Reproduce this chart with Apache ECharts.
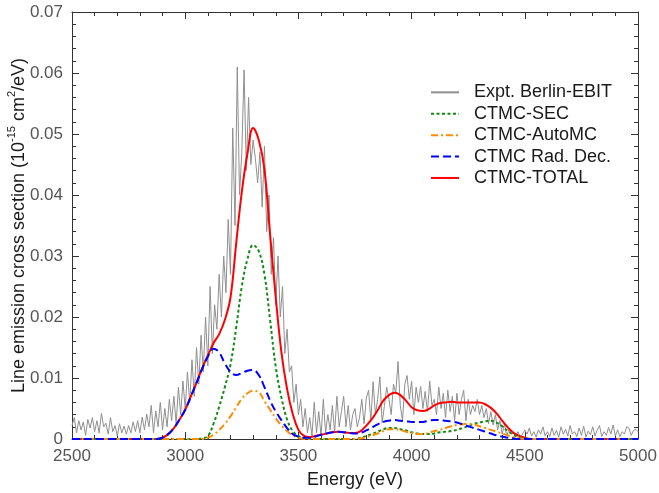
<!DOCTYPE html>
<html><head><meta charset="utf-8">
<script src="https://cdn.jsdelivr.net/npm/echarts@6/dist/echarts.min.js"></script>
<style>html,body{margin:0;padding:0;background:#fff}#c{width:659px;height:493px}</style>
</head><body><div id="c"></div>
<script>
// ---------- data ----------
const legendNames = ['Expt. Berlin-EBIT', 'CTMC-SEC', 'CTMC-AutoMC', 'CTMC Rad. Dec.', 'CTMC-TOTAL'];
const xTicks = [2500, 3000, 3500, 4000, 4500, 5000];
const yTicks = [0, 0.01, 0.02, 0.03, 0.04, 0.05, 0.06, 0.07];

// Experimental spectrum, 10 eV bins from 2500 eV
const expStart = 2500, expStep = 10;
const expValues = [
  0.0022, 0.0035, 0.001, 0.003, 0.0015, 0.0028, 0.0006, 0.0032, 0.0018, 0.0035, // 2500
  0.0012, 0.003, 0.001, 0.0042, 0.002, 0.0026, 0.0008, 0.0035, 0.0012, 0.0022,  // 2600
  0.0005, 0.0025, 0.001, 0.0021, 0.0008, 0.0022, 0.001, 0.0028, 0.0012, 0.003,  // 2700
  0.001, 0.0036, 0.0015, 0.0041, 0.002, 0.0055, 0.001, 0.0046, 0.002, 0.006,    // 2800
  0.0015, 0.005, 0.002, 0.0065, 0.003, 0.007, 0.0025, 0.0085, 0.004, 0.0095,    // 2900
  0.005, 0.011, 0.006, 0.013, 0.007, 0.015, 0.009, 0.017, 0.011, 0.02,          // 3000
  0.012, 0.025, 0.014, 0.022, 0.018, 0.027, 0.02, 0.03, 0.024, 0.036,           // 3100
  0.027, 0.051, 0.035, 0.061, 0.040, 0.047, 0.0605, 0.044, 0.056, 0.045,        // 3200
  0.049, 0.046, 0.042, 0.047, 0.038, 0.048, 0.034, 0.04, 0.027, 0.033,          // 3300
  0.022, 0.03, 0.02, 0.025, 0.014, 0.018, 0.011, 0.012, 0.006, 0.009,           // 3400
  0.004, 0.0065, 0.002, 0.005, 0.001, 0.0035, 0.0005, 0.006, 0.001, 0.0045,     // 3500
  0.0005, 0.0065, 0.001, 0.004, 0.0015, 0.0055, 0.001, 0.007, 0.002, 0.0045,    // 3600
  0.007, 0.002, 0.0055, 0.0015, 0.004, 0.005, 0.002, 0.0035, 0.0065, 0.0025,    // 3700
  0.0067, 0.008, 0.003, 0.0094, 0.004, 0.0065, 0.0102, 0.0026, 0.0055, 0.0085,  // 3800
  0.0065, 0.004, 0.009, 0.0075, 0.0127, 0.0055, 0.003, 0.009, 0.0104, 0.0065,   // 3900
  0.0095, 0.004, 0.0085, 0.006, 0.0086, 0.005, 0.0078, 0.0045, 0.0095, 0.0055,  // 4000
  0.0065, 0.004, 0.0085, 0.005, 0.0075, 0.0035, 0.008, 0.0045, 0.007, 0.003,    // 4100
  0.0075, 0.004, 0.0065, 0.008, 0.003, 0.0065, 0.004, 0.0055, 0.0045, 0.0065,   // 4200
  0.004, 0.0055, 0.0035, 0.005, 0.0025, 0.0045, 0.0023, 0.004, 0.0015, 0.003,   // 4300
  0.0008, 0.0025, 0.0005, 0.0015, 0.0008, 0.001, 0.0005, 0.0012, 0.0003, 0.0008,// 4400
  0.0015, 0.0008, 0.0018, 0.0005, 0.0012, 0.0003, 0.0015, 0.0008, 0.002, 0.0005,// 4500
  0.0012, 0.0004, 0.0018, 0.0006, 0.0014, 0.0003, 0.002, 0.0008, 0.0016, 0.0005,// 4600
  0.0022, 0.0008, 0.0012, 0.0004, 0.0018, 0.0006, 0.0021, 0.0003, 0.0013, 0.0007,// 4700
  0.002, 0.0005, 0.0015, 0.0022, 0.0004, 0.0012, 0.0006, 0.0019, 0.0008, 0.0023,// 4800
  0.0005, 0.0015, 0.0004, 0.0012, 0.0008, 0.002, 0.0018, 0.0006, 0.0014, 0.0016,// 4900
  0.0012                                                                        // 5000
];

// Theory curves energies
const thEnergy = [
  2500,
  2850, 2875, 2900, 2925, 2950, 2975, 3000, 3025, 3050, 3075,
  3100, 3125, 3150, 3175, 3200, 3225, 3250, 3275, 3300, 3325,
  3350, 3375, 3400, 3425, 3450, 3475, 3500, 3525, 3550, 3575,
  3600, 3625, 3650, 3675, 3700, 3725, 3750, 3775, 3800, 3825,
  3850, 3875, 3900, 3925, 3950, 3975, 4000, 4025, 4050, 4075,
  4100, 4125, 4150, 4175, 4200, 4225, 4250, 4275, 4300, 4325,
  4350, 4375, 4400, 4425, 4450, 4475, 4500, 4525, 4550, 4575,
  5000
];
const totalValues = [
  0,
  0, 0, 0.0002, 0.0008, 0.0018, 0.0032, 0.0048, 0.007, 0.0092, 0.0116,
  0.0137, 0.0157, 0.0172, 0.0195, 0.0232, 0.032, 0.0405, 0.0468, 0.051, 0.049,
  0.0442, 0.0335, 0.0232, 0.0142, 0.0082, 0.0041, 0.0015, 0.0005, 0.0003, 0.0005,
  0.0007, 0.0009, 0.0011, 0.0012, 0.0011, 0.001, 0.001, 0.0013, 0.0022, 0.0033,
  0.0047, 0.0063, 0.0072, 0.0076, 0.0072, 0.0063, 0.0052, 0.0047, 0.0046, 0.0049,
  0.0055, 0.0059, 0.006, 0.0061, 0.006, 0.006, 0.006, 0.006, 0.006, 0.0057,
  0.0051, 0.0042, 0.003, 0.0019, 0.001, 0.0005, 0.0002, 0, 0, 0,
  0
];
const radDecValues = [
  0,
  0, 0, 0.0002, 0.0008, 0.0018, 0.0032, 0.0048, 0.007, 0.0092, 0.0115,
  0.0135, 0.0148, 0.0142, 0.0124, 0.011, 0.0105, 0.0108, 0.0112, 0.0113, 0.0105,
  0.0085, 0.0063, 0.0045, 0.0031, 0.0018, 0.0008, 0.0004, 0.0002, 0.0002, 0.0004,
  0.0007, 0.0009, 0.0011, 0.0012, 0.0011, 0.001, 0.0009, 0.001, 0.0014, 0.0019,
  0.0024, 0.0028, 0.003, 0.0031, 0.003, 0.0029, 0.0028, 0.0028, 0.0028, 0.003,
  0.0031, 0.0031, 0.003, 0.0029, 0.0027, 0.0024, 0.0021, 0.0018, 0.0015, 0.0012,
  0.0009, 0.0006, 0.0004, 0.0002, 0.0001, 0, 0, 0, 0, 0,
  0
];
const secValues = [
  0,
  0, 0, 0, 0, 0, 0, 0, 0, 0, 0.0001,
  0.0005, 0.0025, 0.0053, 0.0085, 0.0122, 0.0182, 0.025, 0.0295, 0.0318, 0.0308,
  0.027, 0.0195, 0.0118, 0.0068, 0.0032, 0.0013, 0.0005, 0.0001, 0, 0,
  0, 0, 0, 0, 0, 0, 0, 0.0002, 0.0005, 0.0008,
  0.0012, 0.0016, 0.0018, 0.0018, 0.0016, 0.0014, 0.0011, 0.0009, 0.0008, 0.0008,
  0.0009, 0.0011, 0.0012, 0.0013, 0.0015, 0.0018, 0.0021, 0.0025, 0.0027, 0.0029,
  0.003, 0.0027, 0.0021, 0.0013, 0.0007, 0.0003, 0.0001, 0, 0, 0,
  0
];
const autoMCValues = [
  0,
  0, 0, 0, 0, 0, 0, 0, 0, 0, 0,
  0.0002, 0.0007, 0.0015, 0.0025, 0.0037, 0.0052, 0.0066, 0.0075, 0.0079, 0.0077,
  0.0062, 0.0048, 0.0034, 0.0022, 0.0013, 0.0006, 0.0002, 0, 0, 0,
  0, 0, 0, 0, 0, 0, 0, 0.0001, 0.0003, 0.0006,
  0.0009, 0.0013, 0.0016, 0.0016, 0.0015, 0.0012, 0.001, 0.0008, 0.0008, 0.001,
  0.0013, 0.0015, 0.0018, 0.0021, 0.0023, 0.0024, 0.0025, 0.0024, 0.0021, 0.0018,
  0.0015, 0.0012, 0.0009, 0.0006, 0.0003, 0.0001, 0, 0, 0, 0,
  0
];

// ---------- chart ----------
const FONT = '"Liberation Sans", Arial, sans-serif';
const AXIS_COLOR = '#333333';
const expData = expValues.map((v, i) => [expStart + i * expStep, v]);
const pair = vals => thEnergy.map((e, i) => [e, vals[i]]);

function makeX(pos, labels) {
  return {
    type: 'value', position: pos, min: xTicks[0], max: xTicks[xTicks.length - 1],
    interval: xTicks[1] - xTicks[0],
    axisLine: { show: true, onZero: false, lineStyle: { color: AXIS_COLOR, width: 1 } },
    axisTick: { show: true, inside: true, length: 7, lineStyle: { color: AXIS_COLOR } },
    minorTick: { show: true, splitNumber: 5, length: 4, lineStyle: { color: AXIS_COLOR } },
    splitLine: { show: false },
    axisLabel: { show: labels, fontSize: 17, color: '#555555', margin: 9, fontFamily: FONT,
      formatter: v => String(Math.round(v)) }
  };
}
function makeY(pos, labels) {
  return {
    type: 'value', position: pos, min: yTicks[0], max: yTicks[yTicks.length - 1],
    interval: 0.01,
    axisLine: { show: true, onZero: false, lineStyle: { color: AXIS_COLOR, width: 1 } },
    axisTick: { show: true, inside: true, length: 7, lineStyle: { color: AXIS_COLOR } },
    minorTick: { show: true, splitNumber: 5, length: 4, lineStyle: { color: AXIS_COLOR } },
    splitLine: { show: false },
    axisLabel: { show: labels, fontSize: 17, color: '#555555', margin: 9, fontFamily: FONT,
      formatter: v => (Math.abs(v) < 1e-9 ? '0' : (+v.toFixed(2)).toString()) }
  };
}

const xBottom = makeX('bottom', true);
xBottom.name = 'Energy (eV)';
xBottom.nameLocation = 'middle';
xBottom.nameGap = 32;
xBottom.nameMoveOverlap = false;
xBottom.nameTextStyle = { fontSize: 18, color: '#1a1a1a', fontFamily: FONT };

const yLeft = makeY('left', true);
yLeft.name = '{a|Line emission cross section (10}{s|-15}{a| cm}{s|2}{a|/eV)}';
yLeft.nameLocation = 'middle';
yLeft.nameGap = 44;
yLeft.nameMoveOverlap = false;
yLeft.nameTextStyle = {
  fontFamily: FONT, color: '#1a1a1a',
  rich: {
    a: { fontSize: 18, lineHeight: 22, color: '#1a1a1a', fontFamily: FONT, verticalAlign: 'bottom' },
    s: { fontSize: 11, lineHeight: 11, color: '#1a1a1a', fontFamily: FONT, verticalAlign: 'top' }
  }
};

const chart = echarts.init(document.getElementById('c'), null, { renderer: 'canvas' });
chart.setOption({
  animation: false,
  backgroundColor: '#ffffff',
  textStyle: { fontFamily: FONT },
  grid: { left: 72, right: 21, top: 12, bottom: 54, containLabel: false, outerBoundsMode: 'none' },
  legend: {
    data: legendNames, orient: 'vertical', left: 430, top: 82, padding: 0,
    itemWidth: 28, itemHeight: 4, itemGap: 0.7,
    itemStyle: { opacity: 0 },
    textStyle: { fontSize: 18, color: '#1a1a1a', fontFamily: FONT, lineHeight: 20.7, padding: [0, 0, 0, 10] }
  },
  xAxis: [xBottom, makeX('top', false)],
  yAxis: [yLeft, makeY('right', false)],
  series: [
    { name: legendNames[0], type: 'line', data: expData, symbol: 'none', color: '#8f8f8f',
      lineStyle: { color: '#8f8f8f', width: 1 }, z: 1 },
    { name: legendNames[4], type: 'line', data: pair(totalValues), symbol: 'none', smooth: 0.4, color: '#ff0000',
      lineStyle: { color: '#ff0000', width: 2 }, z: 2 },
    { name: legendNames[1], type: 'line', data: pair(secValues), symbol: 'none', smooth: 0.4, color: '#138a13',
      lineStyle: { color: '#138a13', width: 2, type: [3, 2.5] }, z: 3 },
    { name: legendNames[2], type: 'line', data: pair(autoMCValues), symbol: 'none', smooth: 0.4, color: '#ff8c00',
      lineStyle: { color: '#ff8c00', width: 2, type: [7, 3, 2, 3] }, z: 4 },
    { name: legendNames[3], type: 'line', data: pair(radDecValues), symbol: 'none', smooth: 0.4, color: '#0000ff',
      lineStyle: { color: '#0000ff', width: 2, type: [8, 4] }, z: 5 }
  ]
});
</script>
</body></html>
